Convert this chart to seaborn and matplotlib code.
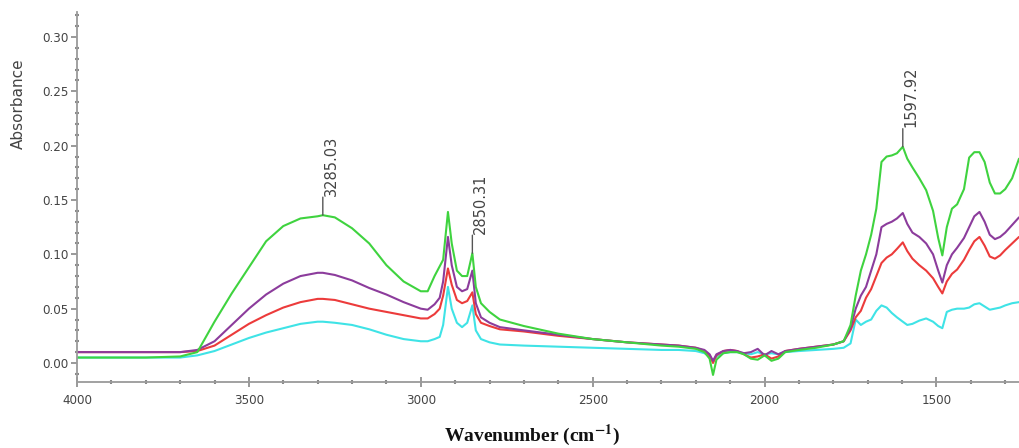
import numpy as np
import pandas as pd
import matplotlib
matplotlib.use("Agg")
import matplotlib.pyplot as plt
from matplotlib.ticker import MultipleLocator
import seaborn as sns

# ---------------- data ----------------
wavenumber = [4000, 3800, 3700, 3650, 3600, 3550, 3500, 3450, 3400, 3350, 3300, 3285,
              3250, 3200, 3150, 3100, 3050, 3000, 2980, 2960, 2945, 2935, 2921, 2910,
              2895, 2880, 2865, 2850, 2840, 2825, 2800, 2770, 2700, 2600, 2500, 2400,
              2300, 2250, 2200, 2175, 2160, 2150, 2140, 2120, 2100, 2080, 2060, 2040,
              2020, 2000, 1980, 1960, 1940, 1900, 1850, 1800, 1770, 1750, 1735, 1720,
              1705, 1690, 1675, 1660, 1645, 1630, 1615, 1598, 1585, 1570, 1550, 1530,
              1510, 1495, 1483, 1470, 1455, 1440, 1420, 1405, 1390, 1375, 1360, 1345,
              1330, 1315, 1300, 1280, 1260]

green = [0.005, 0.005, 0.006, 0.010, 0.038, 0.064, 0.088, 0.112, 0.126, 0.133, 0.135, 0.136,
         0.134, 0.124, 0.110, 0.090, 0.075, 0.066, 0.066, 0.080, 0.089, 0.095, 0.139, 0.110,
         0.085, 0.080, 0.080, 0.101, 0.070, 0.055, 0.047, 0.040, 0.034, 0.027, 0.022, 0.019,
         0.016, 0.015, 0.013, 0.010, 0.004, -0.011, 0.003, 0.009, 0.010, 0.010, 0.008, 0.004,
         0.003, 0.007, 0.002, 0.004, 0.010, 0.012, 0.014, 0.017, 0.020, 0.035, 0.062, 0.085,
         0.100, 0.118, 0.142, 0.185, 0.190, 0.191, 0.193, 0.199, 0.188, 0.180, 0.170, 0.159,
         0.140, 0.115, 0.099, 0.125, 0.142, 0.146, 0.160, 0.189, 0.194, 0.194, 0.185, 0.166,
         0.156, 0.156, 0.160, 0.170, 0.188]

purple = [0.010, 0.010, 0.010, 0.012, 0.020, 0.035, 0.050, 0.063, 0.073, 0.080, 0.083, 0.083,
          0.081, 0.076, 0.069, 0.063, 0.056, 0.050, 0.049, 0.054, 0.060, 0.075, 0.116, 0.090,
          0.070, 0.066, 0.068, 0.085, 0.055, 0.042, 0.037, 0.033, 0.030, 0.026, 0.022, 0.019,
          0.017, 0.016, 0.014, 0.012, 0.008, 0.002, 0.008, 0.011, 0.012, 0.011, 0.009, 0.010,
          0.013, 0.007, 0.011, 0.008, 0.011, 0.013, 0.015, 0.017, 0.020, 0.032, 0.050, 0.062,
          0.070, 0.085, 0.100, 0.125, 0.128, 0.130, 0.133, 0.138, 0.128, 0.120, 0.116, 0.110,
          0.100, 0.085, 0.074, 0.090, 0.100, 0.106, 0.115, 0.125, 0.135, 0.139, 0.130, 0.118,
          0.114, 0.116, 0.120, 0.127, 0.134]

red = [0.010, 0.010, 0.010, 0.011, 0.016, 0.026, 0.036, 0.044, 0.051, 0.056, 0.059, 0.059,
       0.058, 0.054, 0.050, 0.047, 0.044, 0.041, 0.041, 0.045, 0.050, 0.062, 0.087, 0.072,
       0.058, 0.055, 0.057, 0.065, 0.045, 0.037, 0.034, 0.031, 0.029, 0.025, 0.022, 0.019,
       0.017, 0.016, 0.014, 0.011, 0.007, 0.000, 0.007, 0.011, 0.012, 0.011, 0.008, 0.005,
       0.006, 0.008, 0.004, 0.006, 0.011, 0.013, 0.015, 0.017, 0.020, 0.030, 0.042, 0.048,
       0.060, 0.068, 0.080, 0.092, 0.097, 0.100, 0.105, 0.111, 0.103, 0.096, 0.090, 0.085,
       0.078, 0.070, 0.064, 0.075, 0.082, 0.086, 0.095, 0.104, 0.112, 0.116, 0.108, 0.098,
       0.096, 0.099, 0.104, 0.110, 0.116]

cyan = [0.005, 0.005, 0.005, 0.007, 0.011, 0.017, 0.023, 0.028, 0.032, 0.036, 0.038, 0.038,
        0.037, 0.035, 0.031, 0.026, 0.022, 0.020, 0.020, 0.022, 0.024, 0.035, 0.070, 0.050,
        0.037, 0.033, 0.037, 0.053, 0.030, 0.022, 0.019, 0.017, 0.016, 0.015, 0.014, 0.013,
        0.012, 0.012, 0.011, 0.009, 0.006, 0.002, 0.006, 0.009, 0.010, 0.010, 0.009, 0.008,
        0.010, 0.008, 0.009, 0.008, 0.010, 0.011, 0.012, 0.013, 0.014, 0.018, 0.040, 0.035,
        0.038, 0.040, 0.048, 0.053, 0.051, 0.046, 0.042, 0.038, 0.035, 0.036, 0.039, 0.041,
        0.038, 0.034, 0.032, 0.047, 0.049, 0.050, 0.050, 0.051, 0.054, 0.055, 0.052, 0.049,
        0.050, 0.051, 0.053, 0.055, 0.056]

series_names = ["cyan", "red", "purple", "green"]
series_colors = ["#3fe3e6", "#ec3b3b", "#8c3c9c", "#3fd33f"]

peak_wavenumbers = [3285, 2850, 1598]
peak_labels = ["3285.03", "2850.31", "1597.92"]

y_ticks = [0.00, 0.05, 0.10, 0.15, 0.20, 0.25, 0.30]
x_ticks = [4000, 3500, 3000, 2500, 2000, 1500]

# ---------------- build long-form table ----------------
values = {"cyan": cyan, "red": red, "purple": purple, "green": green}
df = pd.concat(
    [pd.DataFrame({"wavenumber": wavenumber, "absorbance": values[n], "sample": n})
     for n in series_names],
    ignore_index=True,
)

sns.set_theme(style="white")
plt.rcParams["font.family"] = ["DejaVu Sans"]
plt.rcParams["mathtext.fontset"] = "stix"

W, H = 1019, 448
fig = plt.figure(figsize=(W / 100, H / 100), dpi=100)
ax = fig.add_axes([77 / W, 1 - 382 / H, 1 - 77 / W, 370 / H])

sns.lineplot(data=df, x="wavenumber", y="absorbance", hue="sample",
             hue_order=series_names, palette=dict(zip(series_names, series_colors)),
             linewidth=1.5, legend=False, estimator=None, ax=ax)

ax.set_xlim(4000, 1260)
ax.set_ylim(-0.0175, 0.323)

# axes styling
for s in ["top", "right"]:
    ax.spines[s].set_visible(False)
for s in ["left", "bottom"]:
    ax.spines[s].set_color("#9a9a9a")
    ax.spines[s].set_linewidth(1.3)

ax.set_xticks(x_ticks)
ax.set_yticks(y_ticks)
ax.set_yticklabels([f"{v:.2f}" for v in y_ticks])
ax.xaxis.set_minor_locator(MultipleLocator(100))
ax.yaxis.set_minor_locator(MultipleLocator(0.01))

for lab in ax.get_xticklabels() + ax.get_yticklabels():
    lab.set_family(["DejaVu Sans"])
    lab.set_fontstretch("condensed")
    lab.set_fontsize(9.5)
ax.tick_params(axis="y", which="major", direction="out", length=4, width=1.2,
               color="#888888", labelcolor="#444444", pad=2)
ax.tick_params(axis="x", which="major", direction="inout", length=7, width=1.2,
               color="#888888", labelcolor="#444444", pad=5)
ax.tick_params(axis="both", which="minor", direction="inout", length=2.5, width=1.5,
               color="#888888")
ax.tick_params(axis="both", which="both", bottom=True, left=True)

ax.set_xlabel("")
ax.set_ylabel("")
ax.grid(False)

# y label (positioned as in the reference, high on the left)
fig.text(18 / W, 1 - 104 / H, "Absorbance", rotation=90, ha="center", va="center",
         fontsize=11, color="#444444")

# x label (bold serif with superscript)
fig.text(532 / W, 1 - 435 / H, r"Wavenumber (cm$^{\mathbf{-1}}$)", ha="center", va="center",
         fontsize=14, fontweight="bold", family=["Liberation Serif", "DejaVu Serif"],
         color="#111111")

# peak annotations on the green spectrum
for pw, pl in zip(peak_wavenumbers, peak_labels):
    gy = green[wavenumber.index(pw)]
    ax.annotate("", xy=(pw, gy), xytext=(0, 13), textcoords="offset points",
                arrowprops=dict(arrowstyle="-", color="#555555", lw=1.0,
                                shrinkA=0, shrinkB=0))
    ax.annotate(pl, xy=(pw, gy), xytext=(6, 14), textcoords="offset points",
                rotation=90, ha="center", va="bottom", fontsize=10.5, color="#444444")

fig.savefig("out.png", dpi=100)
